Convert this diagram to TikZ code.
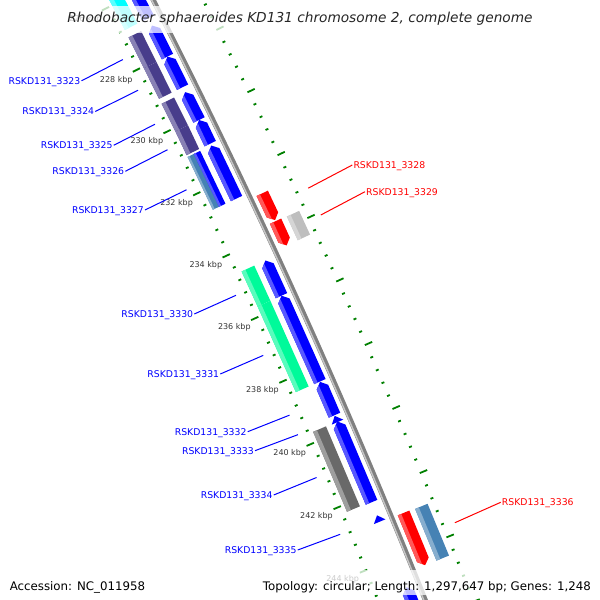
\documentclass[tikz,border=0pt]{standalone}
\usepackage{fontspec}
\setmainfont{DejaVu Sans}
\usetikzlibrary{positioning}

\definecolor{genblue}{RGB}{0,0,255}
\definecolor{genred}{RGB}{255,0,0}
\definecolor{cogpurple}{RGB}{72,61,139}
\definecolor{cogsteel}{RGB}{70,130,180}
\definecolor{cogteal}{RGB}{0,250,154}
\definecolor{cogcyan}{RGB}{0,255,255}
\definecolor{coggray}{RGB}{105,105,105}
\definecolor{cogsilver}{RGB}{190,190,190}
\definecolor{tickgreen}{RGB}{0,128,0}
\definecolor{backgray}{RGB}{128,128,128}

% track radii, measured from the map centre
\def\rback{7200}
\def\rinA{7181}\def\rinB{7193.5}
\def\rboxA{7161}\def\rboxB{7175}
\def\routA{7206.5}\def\routB{7219}
\def\rcogA{7225}\def\rcogB{7238.5}
\def\hd{0.17}

% box: start, end, inner radius, outer radius, colour
\newcommand{\featbox}[5]{%
  \fill[#5] ({ang(#1)}:#3) -- ({ang(#1)}:#4) -- ({ang(#2)}:#4) -- ({ang(#2)}:#3) -- cycle;
  \fill[#5!65!white] ({ang(#1)}:#3) -- ({ang(#1)}:{#3+0.3*(#4-#3)}) -- ({ang(#2)}:{#3+0.3*(#4-#3)}) -- ({ang(#2)}:#3) -- cycle;
}
% arrow pointing back (head at start)
\newcommand{\revarrow}[5]{%
  \fill[#5] ({ang(#1)}:{(#3+#4)/2}) -- ({ang(#1+\hd)}:#4) -- ({ang(#2)}:#4) -- ({ang(#2)}:#3) -- ({ang(#1+\hd)}:#3) -- cycle;
  \fill[#5!65!white] ({ang(#1+\hd)}:#3) -- ({ang(#1+0.4*\hd)}:{#3+0.3*(#4-#3)}) -- ({ang(#2)}:{#3+0.3*(#4-#3)}) -- ({ang(#2)}:#3) -- cycle;
}
% arrow pointing forward (head at end)
\newcommand{\fwdarrow}[5]{%
  \fill[#5] ({ang(#1)}:#3) -- ({ang(#1)}:#4) -- ({ang(#2-\hd)}:#4) -- ({ang(#2)}:{(#3+#4)/2}) -- ({ang(#2-\hd)}:#3) -- cycle;
  \fill[#5!65!white] ({ang(#1)}:#3) -- ({ang(#1)}:{#3+0.3*(#4-#3)}) -- ({ang(#2-0.4*\hd)}:{#3+0.3*(#4-#3)}) -- ({ang(#2-\hd)}:#3) -- cycle;
}
% head only
\newcommand{\revhead}[5]{%
  \fill[#5] ({ang(#1)}:{(#3+#4)/2}) -- ({ang(#2)}:#4) -- ({ang(#2)}:#3) -- cycle;
}

\begin{document}
\begin{tikzpicture}[x=1pt, y=1pt,
    declare function={ang(\p)=26.574-0.2755*(\p-228);},
    backbone/.style={draw=backgray, line width=5pt},
    backlight/.style={draw=backgray!45!white, line width=1.4pt},
    tickmark/.style={draw=tickgreen, line width=1.8pt},
    ticklbl/.style={font=\fontsize{8}{9}\selectfont, text=black!80, inner sep=0pt},
    lbl/.style={font=\fontsize{9.3}{10}\selectfont, inner xsep=1pt, inner ysep=0pt, text height=6.8pt, text depth=0pt},
    lblin/.style={lbl, text=genblue, anchor=east},
    lblout/.style={lbl, text=genred, anchor=west},
    lnkin/.style={draw=genblue, line width=1pt},
    lnkout/.style={draw=genred, line width=1pt},
    band/.style={fill=white, fill opacity=0.75, text opacity=1, inner ysep=0pt},
  ]
  \useasboundingbox (0,0) rectangle (600,-600);
  \clip (0,0) rectangle (600,-600);

  \begin{scope}[shift={(-6261,-3270)}]
    % backbone
    \draw[backbone] ({ang(224)}:\rback) arc[start angle={ang(224)}, end angle={ang(247)}, radius=\rback pt];
    \draw[backlight] ({ang(224)}:7198.6) arc[start angle={ang(224)}, end angle={ang(247)}, radius=7198.6pt];

    % inner COG boxes
    \featbox{224.5}{226.81}{\rboxA}{\rboxB}{cogcyan}
    \featbox{227.05}{228.05}{\rboxA}{\rboxB}{cogpurple}
    \featbox{228.05}{229.04}{\rboxA}{\rboxB}{cogpurple}
    \featbox{229.2}{230.1}{\rboxA}{\rboxB}{cogpurple}
    \featbox{230.1}{230.86}{\rboxA}{\rboxB}{cogpurple}
    \featbox{230.92}{232.62}{\rboxA}{7168}{cogsteel}
    \featbox{230.92}{232.62}{7168}{\rboxB}{genblue}
    \featbox{234.6}{235.72}{\rboxA}{\rboxB}{cogteal}
    \featbox{235.72}{238.44}{\rboxA}{\rboxB}{cogteal}
    \featbox{239.7}{242.22}{\rboxA}{\rboxB}{coggray}

    % inner genes
    \revarrow{224.5}{226.81}{\rinA}{\rinB}{genblue}
    \revarrow{227.05}{228.05}{\rinA}{\rinB}{genblue}
    \revarrow{228.05}{229.04}{\rinA}{\rinB}{genblue}
    \revarrow{229.2}{230.1}{\rinA}{\rinB}{genblue}
    \revarrow{230.1}{230.86}{\rinA}{\rinB}{genblue}
    \revarrow{230.92}{232.62}{\rinA}{\rinB}{genblue}
    \revarrow{234.6}{235.72}{\rinA}{\rinB}{genblue}
    \revarrow{235.72}{238.44}{\rinA}{\rinB}{genblue}
    \revarrow{238.45}{239.5}{\rinA}{\rinB}{genblue}
    \revhead{239.52}{239.72}{\rinA}{\rinB}{genblue}
    \revarrow{239.7}{242.24}{\rinA}{\rinB}{genblue}
    \revhead{242.65}{242.85}{\rinA}{\rinB}{genblue}
    \revarrow{244.9}{247}{\rinA}{\rinB}{genblue}

    % outer genes
    \fwdarrow{232.8}{233.66}{\routA}{\routB}{genred}
    \fwdarrow{233.69}{234.46}{\routA}{\routB}{genred}
    \fwdarrow{242.88}{244.51}{\routA}{\routB}{genred}
    \featbox{233.71}{234.46}{\rcogA}{\rcogB}{cogsilver}
    \featbox{242.9}{244.51}{\rcogA}{\rcogB}{cogsteel}

    % ticks every 0.4 kbp, long ones every 2 kbp
    \foreach \i in {0,...,53} {
      \pgfmathsetmacro\p{225.2+0.4*\i}
      \pgfmathtruncatemacro\m{mod(\i,5)}
      \ifnum\m=2
        \draw[tickmark] ({ang(\p)}:7157.5) -- ({ang(\p)}:7149.5);
        \draw[tickmark] ({ang(\p)}:7243) -- ({ang(\p)}:7251);
      \else
        \draw[tickmark] ({ang(\p)}:7157.5) -- ({ang(\p)}:7154.5);
        \draw[tickmark] ({ang(\p)}:7243) -- ({ang(\p)}:7246);
      \fi
    }
    \foreach \k in {226,228,...,244}
      \node[ticklbl] (k\k) at ({ang(\k)}:7131) {\k\ kbp};

    % label anchors
    \coordinate (c3323) at ({ang(227.55)}:7146);
    \coordinate (c3324) at ({ang(228.545)}:7146);
    \coordinate (c3325) at ({ang(229.65)}:7146);
    \coordinate (c3326) at ({ang(230.48)}:7146);
    \coordinate (c3327) at ({ang(231.77)}:7146);
    \coordinate (c3330) at ({ang(235.16)}:7146);
    \coordinate (c3331) at ({ang(237.08)}:7146);
    \coordinate (c3332) at ({ang(238.98)}:7146);
    \coordinate (c3333) at ({ang(239.6)}:7146);
    \coordinate (c3334) at ({ang(240.96)}:7146);
    \coordinate (c3335) at ({ang(242.75)}:7146);
    \coordinate (c3328) at ({ang(233.23)}:7256.5);
    \coordinate (c3329) at ({ang(234.08)}:7256.5);
    \coordinate (c3336) at ({ang(243.7)}:7256.5);
  \end{scope}

  % gene labels
  \node[lblin] (l3323) at (81.5,-80.8) {RSKD131\_3323};
  \node[lblin] (l3324) at (95.3,-111.5) {RSKD131\_3324};
  \node[lblin] (l3325) at (113.7,-145.3) {RSKD131\_3325};
  \node[lblin] (l3326) at (125.3,-171.3) {RSKD131\_3326};
  \node[lblin] (l3327) at (145,-210) {RSKD131\_3327};
  \node[lblin] (l3330) at (194.3,-314) {RSKD131\_3330};
  \node[lblin] (l3331) at (220.3,-374) {RSKD131\_3331};
  \node[lblin] (l3332) at (247.7,-431.7) {RSKD131\_3332};
  \node[lblin] (l3333) at (255,-450.7) {RSKD131\_3333};
  \node[lblin] (l3334) at (273.7,-495) {RSKD131\_3334};
  \node[lblin] (l3335) at (297.7,-550) {RSKD131\_3335};
  \node[lblout] (l3328) at (352.3,-165) {RSKD131\_3328};
  \node[lblout] (l3329) at (365,-191.7) {RSKD131\_3329};
  \node[lblout] (l3336) at (500.7,-502.3) {RSKD131\_3336};
  \foreach \g in {3323,3324,3325,3326,3327,3330,3331,3332,3333,3334,3335}
    \draw[lnkin] (l\g.east) -- (c\g);
  \foreach \g in {3328,3329,3336}
    \draw[lnkout] (l\g.west) -- (c\g);

  % title and legend
  \node[band, anchor=base, inner xsep=5pt, text height=16.7pt, text depth=10.3pt,
        font=\fontsize{13.7}{16}\selectfont\itshape, text=black!85] (title) at (300,-22.7)
        {Rhodobacter sphaeroides KD131 chromosome 2, complete genome};
  \node[band, anchor=base west, inner xsep=3pt, text height=20pt, text depth=5pt,
        font=\fontsize{11.8}{13}\selectfont, text=black] (acc) at (6.6,-590)
        {Accession: NC\_011958};
  \node[band, anchor=base west, inner xsep=3pt, text height=20pt, text depth=5pt,
        font=\fontsize{11.8}{13}\selectfont, text=black] (topo) at (259.7,-590)
        {Topology: circular; Length: 1,297,647 bp; Genes: 1,248};
\end{tikzpicture}
\end{document}
